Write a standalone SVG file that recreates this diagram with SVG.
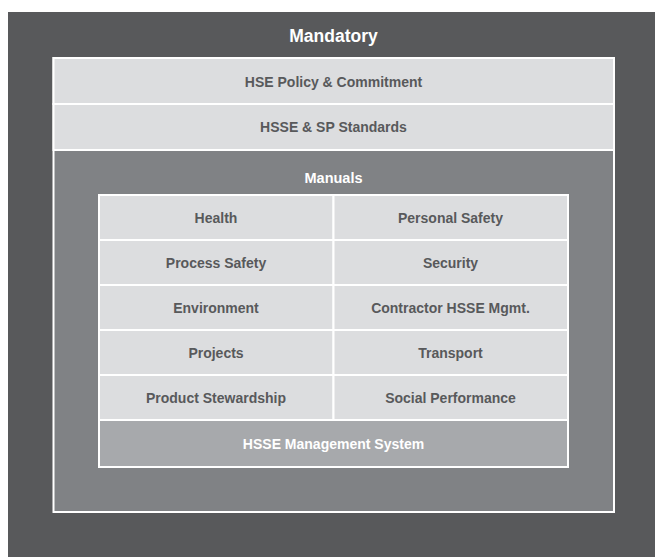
<svg xmlns="http://www.w3.org/2000/svg" width="655" height="557" viewBox="0 0 655 557">
<style>
.t{font-family:"Liberation Sans",Arial,sans-serif;font-weight:bold;font-size:14px;text-anchor:middle}
.dk{fill:#58595b}
.wt{fill:#ffffff}
.cell{fill:#dcdddf;stroke:#ffffff;stroke-width:2}
</style>
<rect x="0" y="0" width="655" height="557" fill="#ffffff"/>
<g id="mandatory">
<rect x="8" y="12" width="647" height="545" fill="#58595b"/>
<text class="t wt" x="333.5" y="41.5" style="font-size:17.5px">Mandatory</text>
</g>
<g id="inner-box">
<rect x="53.5" y="58" width="560.5" height="454" fill="#808285" stroke="#ffffff" stroke-width="2"/>
</g>
<g id="policy">
<rect class="cell" x="53.5" y="58" width="560.5" height="46"/>
<text class="t dk" x="333.5" y="86.5">HSE Policy &amp; Commitment</text>
</g>
<g id="standards">
<rect class="cell" x="53.5" y="104" width="560.5" height="46"/>
<text class="t dk" x="333.5" y="131.5">HSSE &amp; SP Standards</text>
</g>
<g id="manuals">
<text class="t wt" x="333.5" y="183" style="font-size:14.5px">Manuals</text>
</g>
<g id="health"><rect class="cell" x="99" y="195" width="234.5" height="45"/><text class="t dk" x="216" y="222.5">Health</text></g>
<g id="personal-safety"><rect class="cell" x="333.5" y="195" width="234.5" height="45"/><text class="t dk" x="450.5" y="222.5">Personal Safety</text></g>
<g id="process-safety"><rect class="cell" x="99" y="240" width="234.5" height="45"/><text class="t dk" x="216" y="267.5">Process Safety</text></g>
<g id="security"><rect class="cell" x="333.5" y="240" width="234.5" height="45"/><text class="t dk" x="450.5" y="267.5">Security</text></g>
<g id="environment"><rect class="cell" x="99" y="285" width="234.5" height="45"/><text class="t dk" x="216" y="312.5">Environment</text></g>
<g id="contractor"><rect class="cell" x="333.5" y="285" width="234.5" height="45"/><text class="t dk" x="450.5" y="312.5">Contractor HSSE Mgmt.</text></g>
<g id="projects"><rect class="cell" x="99" y="330" width="234.5" height="45"/><text class="t dk" x="216" y="357.5">Projects</text></g>
<g id="transport"><rect class="cell" x="333.5" y="330" width="234.5" height="45"/><text class="t dk" x="450.5" y="357.5">Transport</text></g>
<g id="product-stewardship"><rect class="cell" x="99" y="375" width="234.5" height="45"/><text class="t dk" x="216" y="402.5">Product Stewardship</text></g>
<g id="social-performance"><rect class="cell" x="333.5" y="375" width="234.5" height="45"/><text class="t dk" x="450.5" y="402.5">Social Performance</text></g>
<g id="hsse-ms"><rect class="cell" x="99" y="420" width="469" height="47" style="fill:#a7a9ac"/><text class="t wt" x="333.5" y="448.5">HSSE Management System</text></g>
<g id="connectors"></g>
</svg>
